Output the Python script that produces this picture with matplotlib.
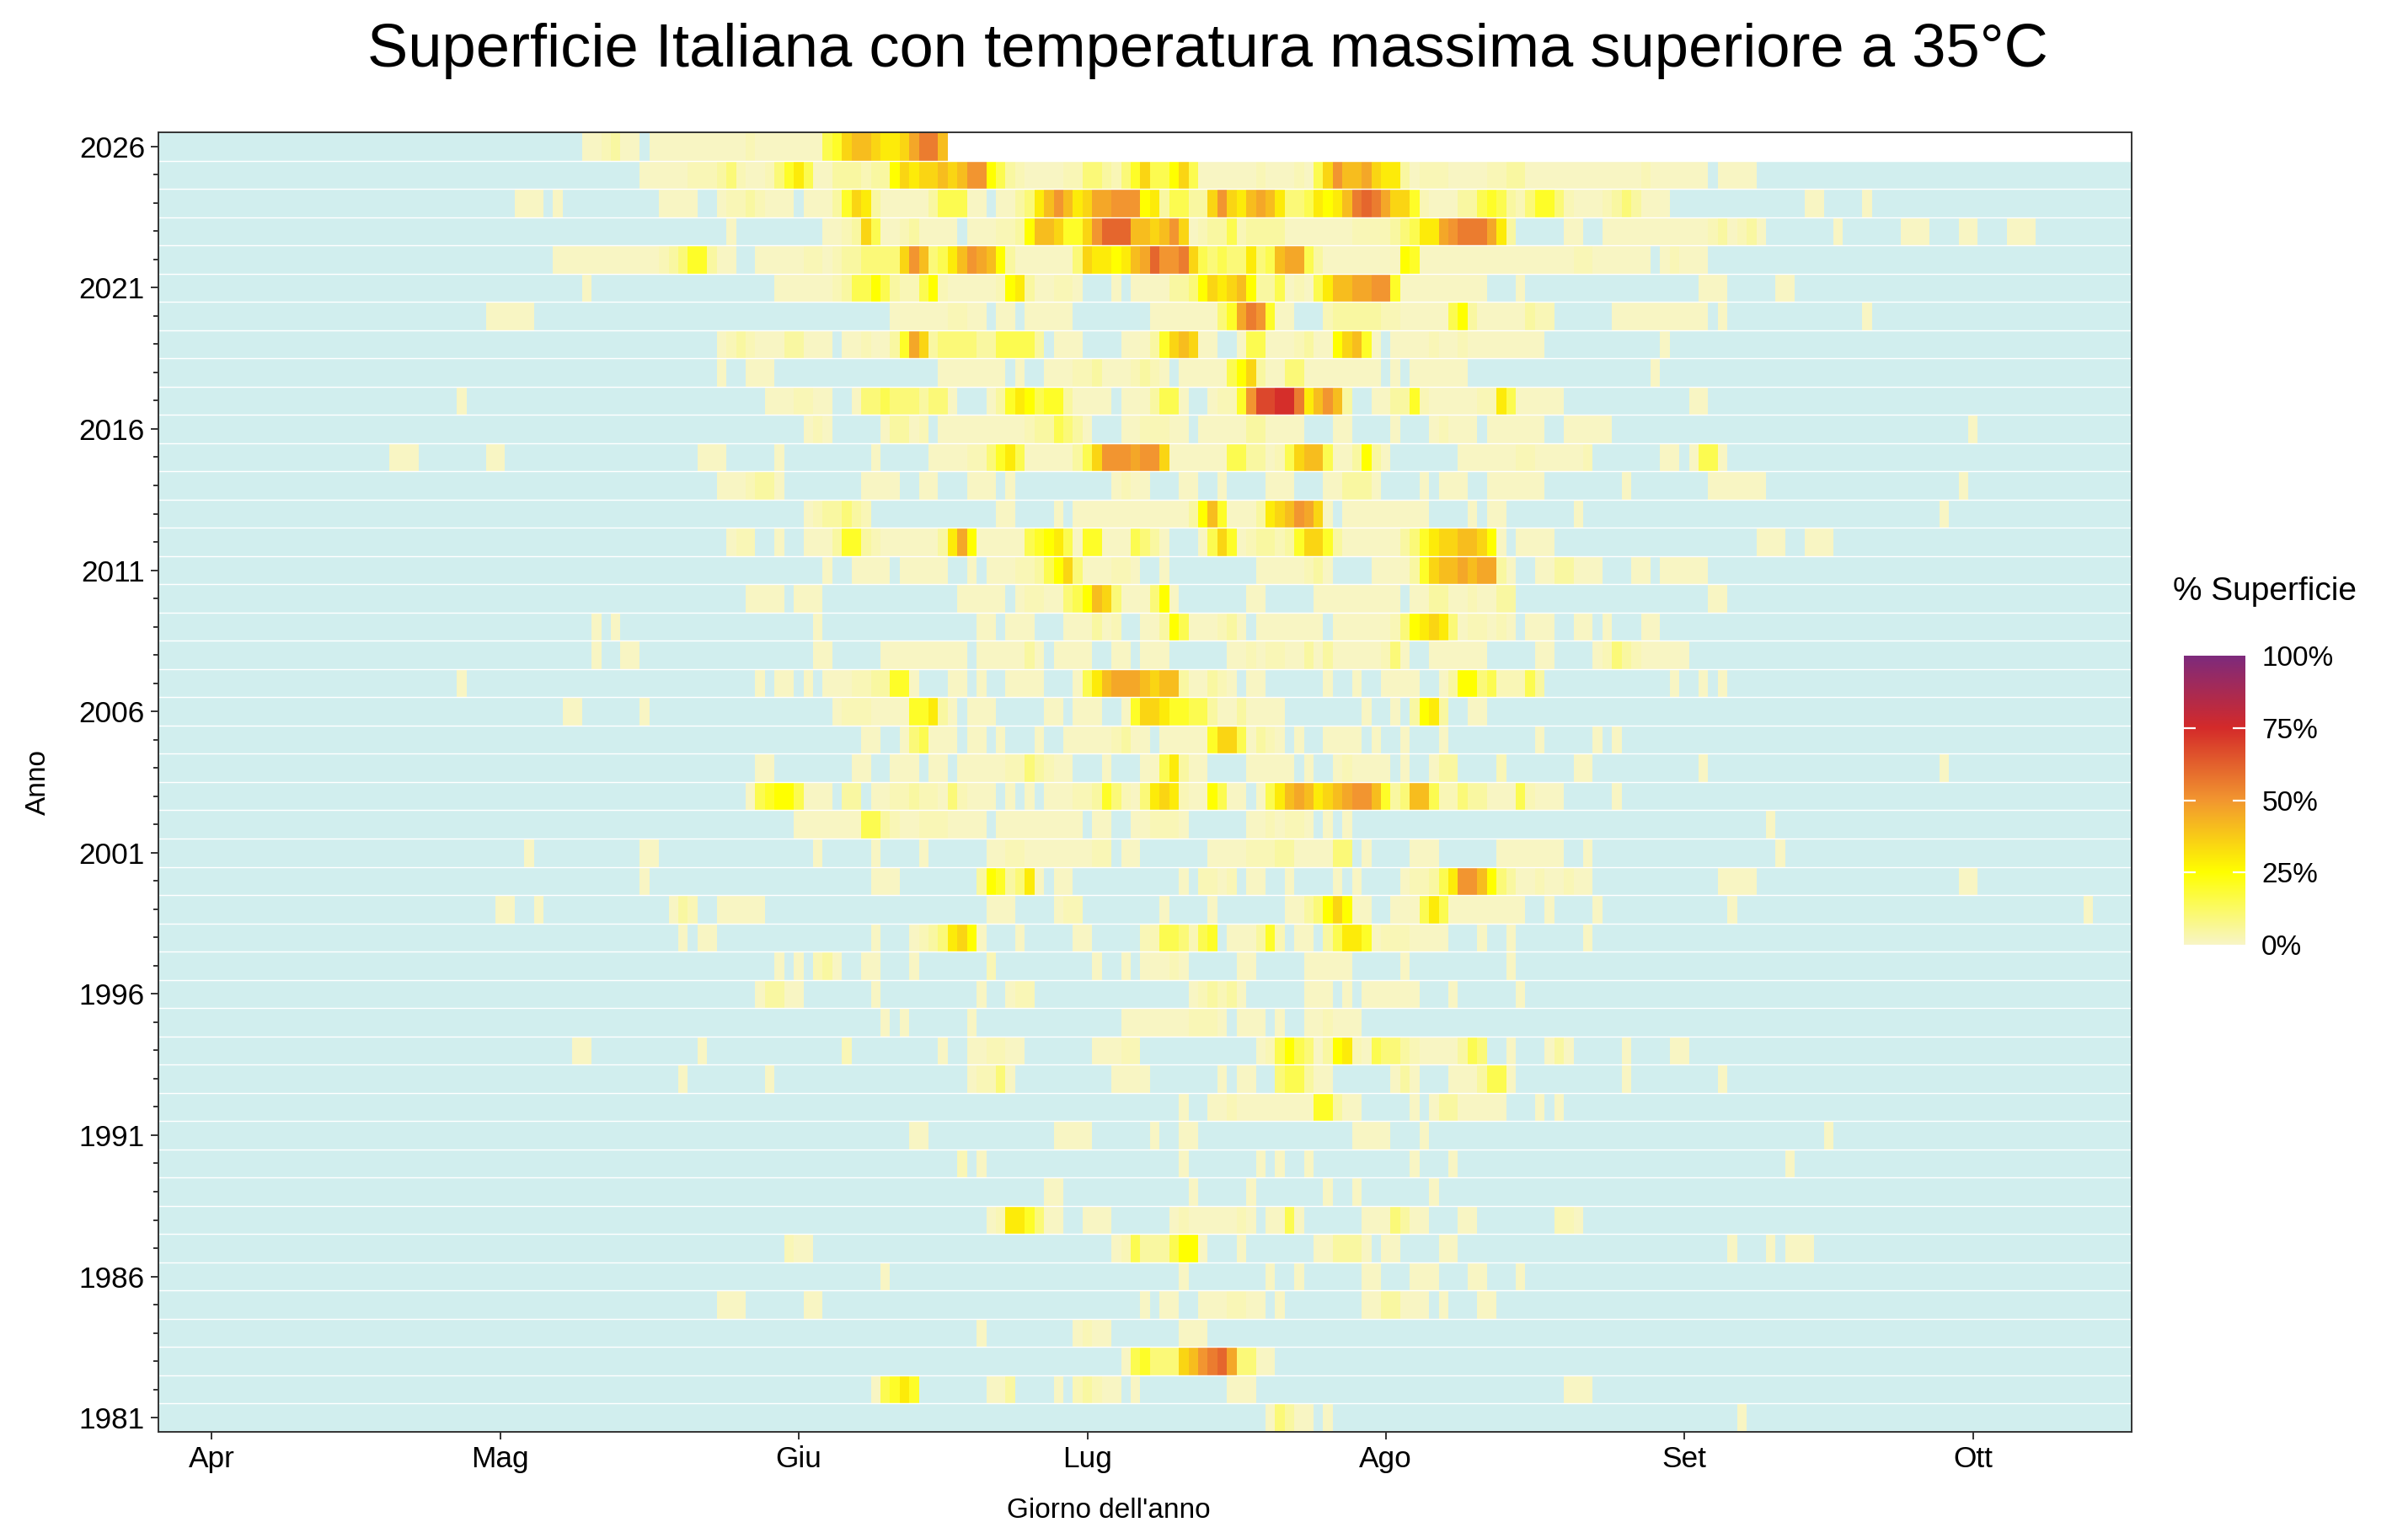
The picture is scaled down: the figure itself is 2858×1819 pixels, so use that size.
import numpy as np
import matplotlib
matplotlib.use("Agg")
import matplotlib.pyplot as plt
from matplotlib.colors import LinearSegmentedColormap

plt.rcParams['font.family'] = ['Liberation Sans', 'DejaVu Sans']

# ======================== Dati =========================
# giorno dell'anno (anno non bisestile): 86 = 27 mar, 290 = 17 ott
primo_giorno = 86
ultimo_giorno = 290
fine_dati_2026 = 167   # dati disponibili fino al 16 giugno 2026

livelli = {'a': 0.5, 'b': 2, 'c': 5, 'd': 10, 'e': 15, 'f': 20, 'g': 25, 'h': 30,
           'i': 35, 'j': 41, 'k': 46, 'l': 50, 'm': 56, 'n': 61, 'o': 68, 'p': 74}

# ogni riga: "giorno_iniziale:codici" ; '.' = 0%
anni_2020 = [2026, 2025, 2024, 2023, 2022, 2021, 2020]
righe_2020 = [
    "130:aabcaa 137:aaaaaaaaaabaaaaaaaefijjihhikmmj",
    "136:aaaaabbbcdbaabdfheaacccbccgihiijijllgecbaaaabbddcbdf 188:ieegieaaaaaabaaabaeiljjkihhcabbbaaaabbccaaaaaaaaaaaa 240:baaaaaa.aaaa",
    "123:aaa.a 138:aaaa..abbcbaaa.aaacfihcaaaaaceeeaa.aacdhjljhikklll 188:ghceeccilihjkjhddehghjmnmkiifbaaaccefecbdffdbaaabcdc 240:aaa 257:aa 263:a",
    "145:a 155:aabcieaabcaaaa.aaabbcgjjiffilnnnj 188:jijliabccebccccaaaaaaabbbbcdehhklmmmkhc.....aa..aaaa 240:aaaaaaabcabca 260:a 267:aaa 273:aa 278:aaa",
    "127:aaaaaaaaa 136:aabcdffcaa..aaaaabbabccddddiljdehjlkjgcaaaaaadihhghj 188:knllmiededdhdejkkecaaaaaaaagfaaaaaaaaaaaaaaaabbaaaaa 240:a.abaaa",
    "130:a 150:aaaaaabceegecbbegbaaaaabghcaabba...a.a 188:aaaccdgihijgcceabaehjjkkllfaaaaaaaaa...a 246:aaa 254:aa",
    "120:aaaaa 162:aaaaaabbaa.aa.aaaaa 189:aaaaaaadfkmlfaa...bcccccbbaaaaaegcaaaaacbb......aaa 240:aaaaaaa.a 263:a",
]

anni_2010 = [2019, 2018, 2017, 2016, 2015, 2014, 2013, 2012, 2011, 2010]
righe_2010 = [
    "144:abcbaaaccaaa.aabaacfkicddddcceeeec.aaa....aa 188:acfijiaa..aeeaaabcaagijfa.aaaabaabaaaaaaaa 242:a",
    "144:a..aaa 167:aaaaaaa.a..aaabbcaaab 188:cba.aaaaaegicaaddaaaaaaaa.a.aaaaaa 241:a",
    "117:a 149:aaabbaa..addedddcdda...acfhgeffcaaaa.aa 188:aceea..abbflooppmhjljc..aaccfbaaaaabbheaaaaa 245:aa",
    "153:aba.....accab.aaaaaaaaabccedca...aa 188:bbbaa.aaaaaccaaaa...aa....a...abaaa.aaaaaa..aaaaa 274:a",
    "110:aaa 120:aa 142:aaa 150:a 160:a 166:aaaabbdfheaaaaaceilllk 188:lliaaaaaaeeccabeijjeaacgca.......aaaaaabbaaaaab 242:aa.aeea",
    "144:aaabcca 159:aaaa 165:aa 170:aaa 174:a 185:aba 188:a 192:aa 196:a 201:aaa 207:aaccca 217:a 219:aaa 224:aaaaaa 238:a 247:aaaaaa 273:a",
    "153:abccdcb 173:aa 179:a 181:aaaaaaa 188:aaaaacgjfaaachijlkia.aaaaaaaaa 222:a 224:aa 233:a 271:a",
    "145:abb 150:a 153:aaacffcbaaaaaachkgaaaaaefgheaffaaae 188:dca...aeifabccbcfiifcaaaaaacdfhiijjiga.aaaa 252:aaa 257:aaa",
    "155:a 158:aaaa 163:aaaaa 170:a 172:aaabbcegidaaabba 190:a 200:aaaaabca 212:aaaacfijjkjkkca 229:aaccaaa 239:aa.aaaaa",
    "147:aaaa 152:aaa 169:aaaaa.abbaadegjidaa 188:adga 199:aa 206:aaaaaaaaa.aaccaabaacc 247:aa",
]

anni_2000 = [2009, 2008, 2007, 2006, 2005, 2004, 2003, 2002, 2001, 2000]
righe_2000 = [
    "131:a.a 154:a 171:aa.aaa...aaacab 188:aacgeaaabca.aaaaaaa.aaaaaabdghihdabbaba.aaa..aa.a 240:aa",
    "131:a 134:aa 154:aa 161:aaaaaaaaa.aaaaaca.aaaa..aa 188:aaa 197:aababbaacacaaaaabda 218:aaaaaa 229:aa 235:abdcb 240:aaaaa",
    "117:a 148:a.aa.a.aaabbccffa...aa.a..aaaa...aehjkkk 188:jijjcaacba.aa 207:a 210:a 213:aaaa..acggdebbbec 243:a 246:a 248:a",
    "128:aa 136:a 156:abbbaaaaffhca.aaa 178:aa.aaa..af 188:iihffeecaacaaaa 211:a 214:a.cghc..aa",
    "159:aa..adeaaa.aa.a...a..aaaaabca 188:a.aaaaafiieacba.a 207:aaaa.a..a 219:a 229:a 235:a.a",
    "148:aa 158:aa 162:aaa.aa.aaaaabbdcbaa...a 188:aaehcaa 199:aaaaa.a..abaaaa.a..acc 225:b 233:aa 246:a 271:a",
    "147:aefggeaaa.cc.aabbcbbadbaaa.a.a.aaabbcfdba 188:dhihbaageaa.aehjkjhijklljfcdjjebbdccaaaebaaa 237:a",
    "152:aaaaaaaeecbaabbbaaaa.aaaaaaaaa.aa..a 188:abbba 199:aababba.a.a 253:a",
    "124:a 136:aa 154:a 160:a 165:a 172:aabbaaaaaaabb.aa 195:aaaabbbccaaaadd.a 216:aaa 225:aaaaaaa 234:a 254:a",
    "136:a 160:aaa 171:cgfcdha.aa 192:a.bbab.aa..a 208:a.a 215:abbcehlljgdcaabaabaa 248:aaaa 273:aa",
]

anni_1990 = [1999, 1998, 1997, 1996, 1995, 1994, 1993, 1992, 1991, 1990]
righe_1990 = [
    "121:aa..a 139:acb..aaaaa 172:aaa....abb 190:a 195:a 203:aacdgigaa..aaaeheaaaaaaaa..a 235:a 249:a 286:a",
    "140:a.aa 160:a 164:abcdhiga 175:a 181:aa 188:bbeedbef.aaacfb.aa.cehhfabbbaaaa 223:a 226:a 234:a",
    "150:a.a.bca..aa...a 172:b 183:a 186:a 188:aaaba 198:aa 205:aaaaa 215:a 226:a",
    "148:accaa 160:a 171:a..abb 193:abcbca 205:aaa.a.aaaaaa 220:a 227:a",
    "161:a.a 170:a 186:aaaaaaabbba.aaa.a..aabaaa",
    "129:aa 142:a 157:b 167:a..aabbaa.......aaabb 200:abegedacghbaeddcbaaaaced..a...aca 238:a 243:aa",
    "140:a 149:a 170:abbda 185:aaaa 196:a.aa..deecaa 214:aca...aaaceea 238:a 248:a",
    "192:a..aabaaaaaaaaffcaa.....a.accaaaaa...a.a",
    "164:aa 179:aaaa 189:a..aa 210:aaaa...a 259:a",
    "169:b.a 192:a 200:a.a..a 216:a 220:a 255:a",
]

anni_1980 = [1989, 1988, 1987, 1986, 1985, 1984, 1983, 1982, 1981]
righe_1980 = [
    "178:aa 193:a 199:a 207:a 210:a 218:a",
    "172:abhhfdaa..aaa 191:abaaaaaba.aaea......aaadcaa...aa........bba",
    "151:baa 185:abe 188:cccegga...a.......aaccca.aa....aa 249:a 253:a.aaa",
    "161:a 192:a 201:a 204:a 211:aa 216:aaa 222:aa 227:a",
    "144:aaa 153:aa 188:a.aa..aaabbaa.a 211:aaccaaa.a 223:aa",
    "171:a 181:abaa 192:aaa",
    "186:aefdddijlmnkddaa",
    "160:aefhf 172:aac....a.bcbaa.a 197:aaa 232:aaa",
    "201:adcaa.a 250:a",
]

mesi_giorni = [91, 121, 152, 182, 213, 244, 274]
mesi_etichette = ["Apr", "Mag", "Giu", "Lug", "Ago", "Set", "Ott"]


# ======================== Decodifica ===================
def decodifica(riga):
    v = np.zeros(ultimo_giorno - primo_giorno + 1)
    for pezzo in riga.split():
        inizio, codici = pezzo.split(":")
        for k, c in enumerate(codici):
            if c != ".":
                v[int(inizio) + k - primo_giorno] = livelli[c]
    return v


anni = anni_2020 + anni_2010 + anni_2000 + anni_1990 + anni_1980
righe = righe_2020 + righe_2010 + righe_2000 + righe_1990 + righe_1980
giorni = np.arange(primo_giorno, ultimo_giorno + 1)

anni_ord = sorted(anni)
Z = np.zeros((len(anni_ord), len(giorni)))
for anno, riga in zip(anni, righe):
    i = anni_ord.index(anno)
    v = decodifica(riga)
    v[v == 0] = -1  # nessuna superficie -> colore di fondo
    if anno == 2026:
        v[giorni > fine_dati_2026] = np.nan
    Z[i] = v
Z = np.ma.masked_invalid(Z)

colori = LinearSegmentedColormap.from_list(
    "sup", [(0.0, "#F8F5C6"), (0.25, "#FFFF00"), (0.5, "#F29630"),
            (0.75, "#D42A2A"), (1.0, "#7D2A7D")])
colori.set_under("#D1EEEE")
colori.set_bad("white")

# ======================== Grafico ======================
fig = plt.figure(figsize=(14.29, 9.095), dpi=200)
ax = fig.add_axes([0.0658, 0.0660, 0.8195, 0.8477])

x_bordi = np.arange(primo_giorno - 0.5, ultimo_giorno + 1.5)
y_bordi = np.arange(anni_ord[0] - 0.5, anni_ord[-1] + 1.5)
ax.pcolormesh(x_bordi, y_bordi, Z, cmap=colori, vmin=0, vmax=100,
              shading="flat", edgecolors="none", antialiased=False)
ax.hlines(np.arange(anni_ord[0] + 0.5, anni_ord[-1] + 0.5), x_bordi[0], x_bordi[-1],
          colors="white", linewidth=0.5)

ax.set_xlim(x_bordi[0], x_bordi[-1])
ax.set_ylim(y_bordi[0], y_bordi[-1])
ax.set_xticks(mesi_giorni)
ax.set_xticklabels(mesi_etichette)
ax.set_yticks(range(1981, 2027, 5))
ax.set_yticks(range(1981, 2027), minor=True)
ax.tick_params(axis="both", which="major", length=3.3, width=0.7, color="#333333",
               labelsize=12.7, labelcolor="black", pad=2.5)
ax.tick_params(axis="y", which="minor", length=2.0, width=0.7, color="#333333")
for s in ax.spines.values():
    s.set_color("#333333")
    s.set_linewidth(0.7)

fig.text(0.5014, 0.967, "Superficie Italiana con temperatura massima superiore a 35°C",
         ha="center", va="center", fontsize=26)
fig.text(0.4605, 0.0148, "Giorno dell'anno", ha="center", va="center", fontsize=12)
fig.text(0.016, 0.4899, "Anno", ha="center", va="center", rotation=90, fontsize=12)

# legenda a barra
fig.text(0.9024, 0.6141, "% Superficie", ha="left", va="center", fontsize=14)
cax = fig.add_axes([0.9069, 0.3837, 0.0255, 0.1886])
scala = np.linspace(0, 100, 256).reshape(-1, 1)
cax.imshow(scala, aspect="auto", cmap=colori, origin="lower", extent=[0, 1, 0, 100],
           vmin=0, vmax=100)
cax.hlines([25, 50, 75], 0, 0.2, colors="white", linewidth=0.8)
cax.hlines([25, 50, 75], 0.8, 1, colors="white", linewidth=0.8)
cax.set_xlim(0, 1)
cax.set_ylim(0, 100)
cax.set_xticks([])
cax.yaxis.tick_right()
cax.set_yticks([0, 25, 50, 75, 100])
cax.set_yticklabels(["0%", "25%", "50%", "75%", "100%"])
cax.tick_params(axis="y", length=0, pad=7, labelsize=12)
for s in cax.spines.values():
    s.set_visible(False)

fig.savefig("out.png", dpi=200)
plt.close(fig)
